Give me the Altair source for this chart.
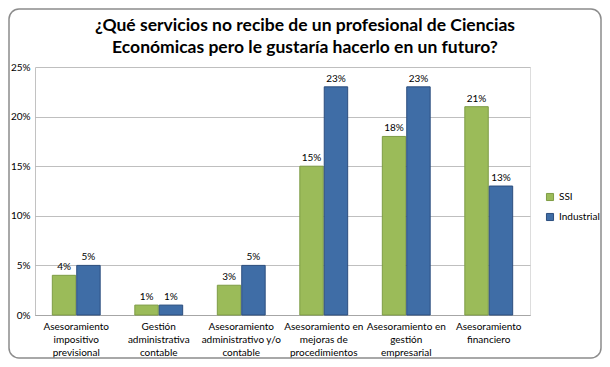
import altair as alt
import pandas as pd

categories = [
    "Asesoramiento\nimpositivo\nprevisional",
    "Gestión\nadministrativa\ncontable",
    "Asesoramiento\nadministrativo y/o\ncontable",
    "Asesoramiento en\nmejoras de\nprocedimientos",
    "Asesoramiento en\ngestión\nempresarial",
    "Asesoramiento\nfinanciero",
]
series = ["SSI", "Industrial"]
ssi = [0.04, 0.01, 0.03, 0.15, 0.18, 0.21]
industrial = [0.05, 0.01, 0.05, 0.23, 0.23, 0.13]
y_ticks = [0, 0.05, 0.10, 0.15, 0.20, 0.25]
title_text = ("¿Qué servicios no recibe de un profesional de Ciencias\n"
              "Económicas pero le gustaría hacerlo en un futuro?")

rows = []
for c, a, b in zip(categories, ssi, industrial):
    rows.append({"cat": c, "serie": "SSI", "v": a})
    rows.append({"cat": c, "serie": "Industrial", "v": b})
df = pd.DataFrame(rows)

FONT = "Lato"
W, H = 495, 248
PL, PT, PR, PB = 27, 59, 72, 44

x = alt.X("cat:N", sort=categories, title=None,
          scale=alt.Scale(paddingInner=0.42, paddingOuter=0.21),
          axis=alt.Axis(labelAngle=0, labelExpr="split(datum.label, '\\n')",
                        labelFontSize=10, labelFont=FONT, labelColor="#000",
                        labelLineHeight=13, labelPadding=6, ticks=False,
                        domainColor="#A6A6A6", labelBaseline="top"))
xo = alt.XOffset("serie:N", sort=series, scale=alt.Scale(paddingInner=0.04))
y = alt.Y("v:Q", title=None,
          scale=alt.Scale(domain=[0, 0.25], nice=False),
          axis=alt.Axis(values=y_ticks, format=".0%", labelFontSize=10,
                        labelFont=FONT, labelColor="#000", ticks=False,
                        labelPadding=5, gridColor="#BFBFBF", gridWidth=1,
                        domainColor="#A6A6A6", domainDash=[1, 1]))
color = alt.Color("serie:N", sort=series, title=None,
                  scale=alt.Scale(domain=series, range=["#9BBB59", "#3F6DA6"]),
                  legend=alt.Legend(orient="none", legendX=510, legendY=125,
                                    symbolType="square", symbolSize=50,
                                    labelFont=FONT, labelFontSize=10,
                                    labelColor="#000", rowPadding=8,
                                    symbolStrokeWidth=1))
stroke = alt.Stroke("serie:N", sort=series, legend=None,
                    scale=alt.Scale(domain=series, range=["#7E9C45", "#2C4E7E"]))

base = alt.Chart(df)
bars = base.mark_bar(strokeWidth=1).encode(x=x, xOffset=xo, y=y, color=color, stroke=stroke)
labels = base.mark_text(dy=-8, fontSize=10, font=FONT, color="#000").encode(
    x=x, xOffset=xo, y=y, text=alt.Text("v:Q", format=".0%"))

one = pd.DataFrame({"a": [0]})
border = alt.Chart(one).mark_rect(
    fill="transparent", stroke="#8C8C8C", strokeWidth=1.5, cornerRadius=10, clip=False
).encode(x=alt.value(-PL + 1), x2=alt.value(W + PR - 1),
         y=alt.value(-PT + 1), y2=alt.value(H + PB - 1))

title = alt.Chart(one).mark_text(
    font=FONT, fontSize=17.5, fontWeight="bold", color="#000", align="center",
    baseline="alphabetic", lineBreak="\n", lineHeight=22, clip=False
).encode(x=alt.value(270), y=alt.value(-36), text=alt.value(title_text))

chart = alt.layer(bars, labels, border, title).properties(
    width=W, height=H,
    padding={"left": PL, "top": PT, "right": PR, "bottom": PB},
    autosize=alt.AutoSizeParams(type="none"),
).configure_view(stroke=None).configure(background="white")

chart.save("out.html", embed_options={"renderer": "svg", "actions": False})
